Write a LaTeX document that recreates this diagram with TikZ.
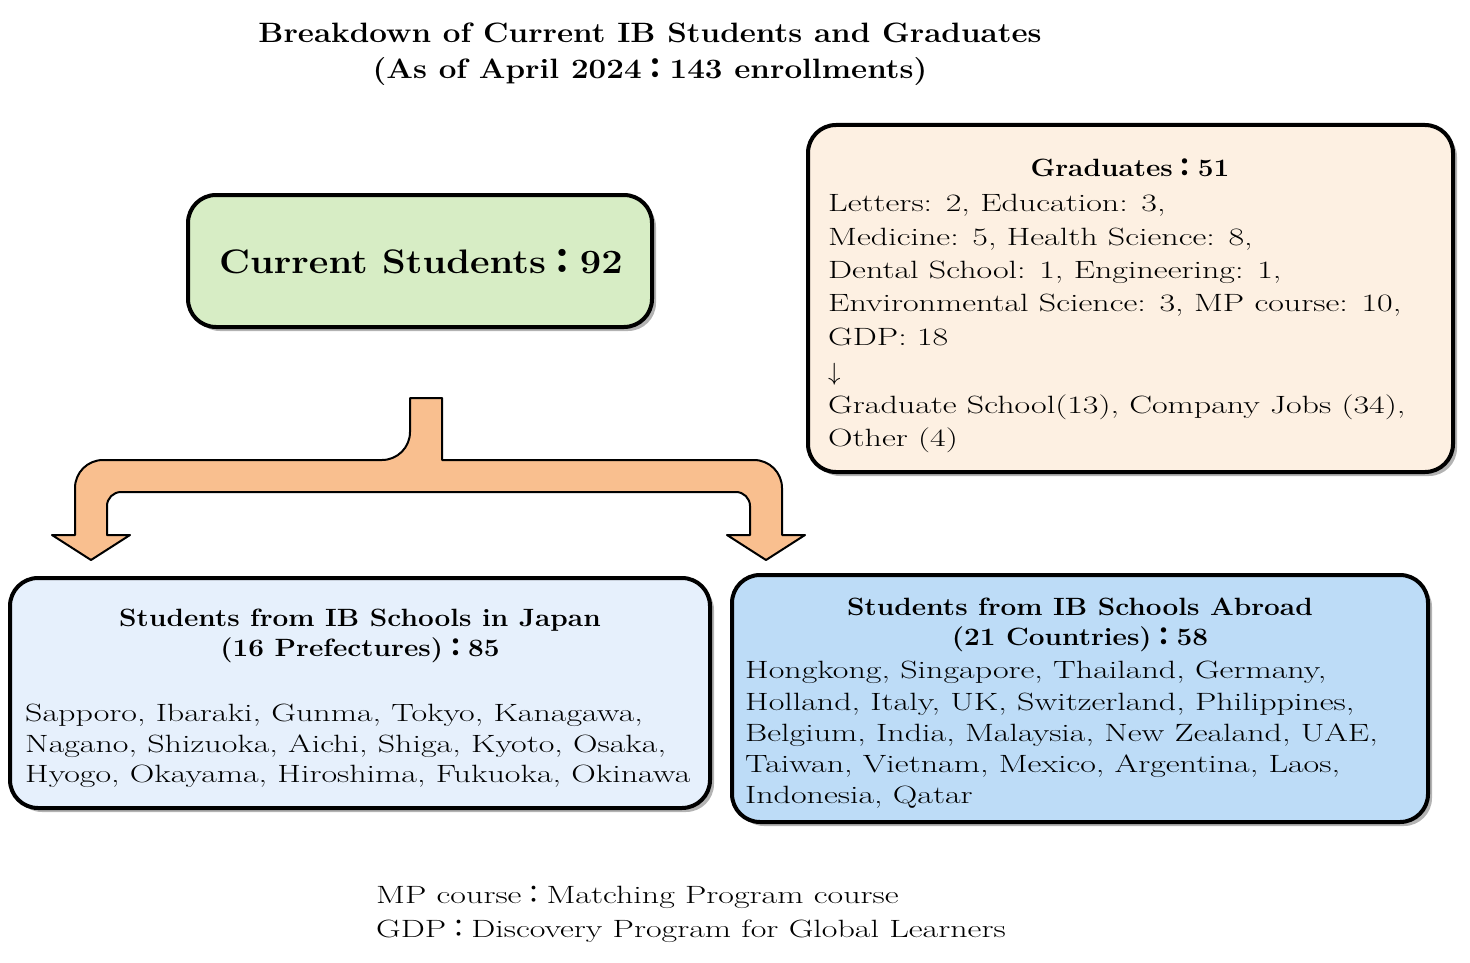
\documentclass[tikz,border=0pt]{standalone}
\usepackage{fontspec}
\setmainfont{Latin Modern Roman}[FakeStretch=1.36,BoldFeatures={FakeStretch=1.12}]
\newfontfamily\cjk{Noto Sans CJK JP}
\usetikzlibrary{shadows}
\newcommand{\fc}{{\cjk ：}}
\definecolor{cgreen}{HTML}{D7EDC5}
\definecolor{cpeach}{HTML}{FDF0E2}
\definecolor{clight}{HTML}{E6F0FC}
\definecolor{cblue}{HTML}{BDDCF7}
\definecolor{corange}{HTML}{F9BF8F}
\tikzset{
  box/.style={draw=black,line width=4pt,rounded corners=28pt,drop shadow={shadow xshift=4pt,shadow yshift=-4pt,opacity=0.6}},
  txt/.style={anchor=base west,inner sep=0pt,font=\fontsize{25}{30}\selectfont},
  ctxt/.style={anchor=base,inner sep=0pt,font=\fontsize{25}{30}\selectfont\bfseries},
}
\begin{document}
\begin{tikzpicture}[x=1pt,y=-1pt]
\useasboundingbox (0,0) rectangle (1470,963);
% title
\node[ctxt,font=\fontsize{28}{32}\selectfont\bfseries] (t1) at (650,43) {Breakdown of Current IB Students and Graduates};
\node[ctxt,font=\fontsize{28}{32}\selectfont\bfseries] (t2) at (650,79) {(As of April 2024\fc 143 enrollments)};
% boxes
\path[box,fill=cgreen] (188,195) rectangle (652,327);
\node[ctxt,font=\fontsize{34}{40}\selectfont\bfseries] (cur) at (421,273) {Current Students\fc 92};
\path[box,fill=cpeach] (808,125) rectangle (1453,472);
\path[box,fill=clight] (10,578) rectangle (710,808);
\path[box,fill=cblue] (732,575) rectangle (1428,822);
% arrow
\draw[fill=corange,line width=2pt,line join=round]
  (410,398) -- (442,398) -- (442,460) [rounded corners=28pt] -- (782,460) [sharp corners] -- (782,535) -- (805,535) -- (766,560) -- (727,535) -- (750,535) [rounded corners=14pt] -- (750,492) -- (107,492) [sharp corners] -- (107,535) -- (130,535) -- (91,560) -- (52,535) -- (75,535) [rounded corners=28pt] -- (75,460) -- (410,460) [sharp corners] -- cycle;
% graduates
\node[ctxt] (g0) at (1130,176) {Graduates\fc 51};
\node[txt] (g1) at (828,211) {Letters: 2, Education: 3,};
\node[txt] (g2) at (828,245) {Medicine: 5, Health Science: 8,};
\node[txt] (g3) at (828,278) {Dental School: 1, Engineering: 1,};
\node[txt] (g4) at (828,311) {Environmental Science: 3, MP course: 10,};
\node[txt] (g5) at (828,345) {GDP: 18};
\node[txt] (g6) at (828,380) {$\downarrow$};
\node[txt] (g7) at (828,413) {Graduate School(13), Company Jobs (34),};
\node[txt] (g8) at (828,446) {Other (4)};
% japan
\node[ctxt] (j0) at (360,626) {Students from IB Schools in Japan};
\node[ctxt] (j1) at (360,656) {(16 Prefectures)\fc 85};
\node[txt] (j2) at (25,721) {Sapporo, Ibaraki, Gunma, Tokyo, Kanagawa,};
\node[txt] (j3) at (25,752) {Nagano, Shizuoka, Aichi, Shiga, Kyoto, Osaka,};
\node[txt] (j4) at (25,782) {Hyogo, Okayama, Hiroshima, Fukuoka, Okinawa};
% abroad
\node[ctxt] (a0) at (1080,615) {Students from IB Schools Abroad};
\node[ctxt] (a1) at (1080,645) {(21 Countries)\fc 58};
\node[txt] (a2) at (745,678) {Hongkong, Singapore, Thailand, Germany,};
\node[txt] (a3) at (745,710) {Holland, Italy, UK, Switzerland, Philippines,};
\node[txt] (a4) at (745,741) {Belgium, India, Malaysia, New Zealand, UAE,};
\node[txt] (a5) at (745,772) {Taiwan, Vietnam, Mexico, Argentina, Laos,};
\node[txt] (a6) at (745,803) {Indonesia, Qatar};
% footnote
\node[txt] (f1) at (376,903) {MP course\fc Matching Program course};
\node[txt] (f2) at (376,937) {GDP\fc Discovery Program for Global Learners};
\end{tikzpicture}
\end{document}
